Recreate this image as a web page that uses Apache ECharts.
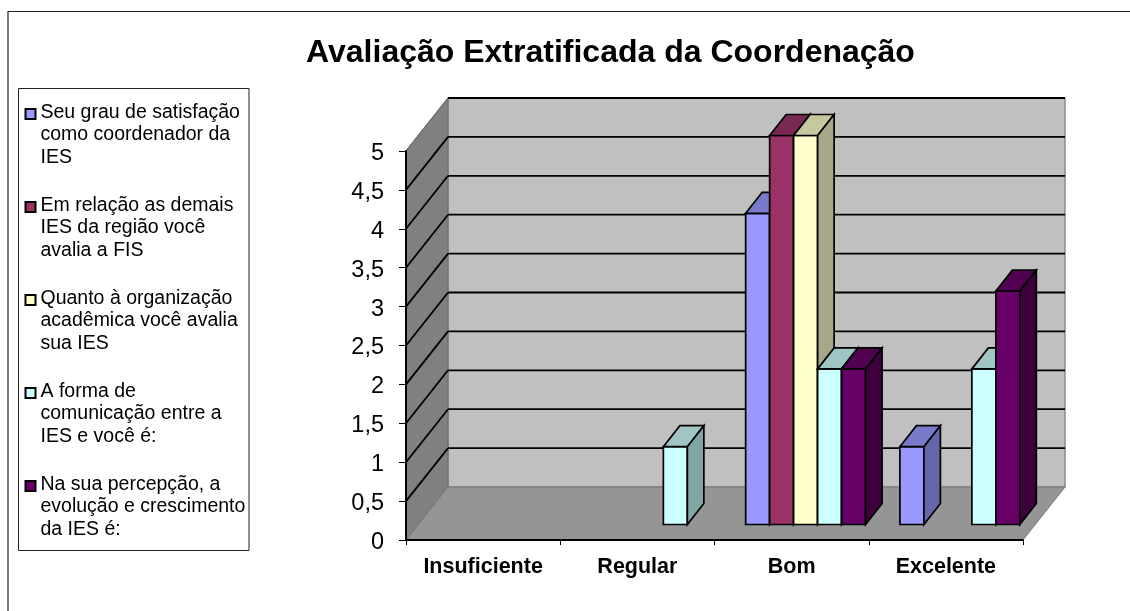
<!DOCTYPE html>
<html><head><meta charset="utf-8">
<style>html,body{margin:0;padding:0;background:#fff}#c{width:1130px;height:611px}</style>
<script src="https://cdn.jsdelivr.net/npm/echarts@6/dist/echarts.min.js"></script>
</head><body><div id="c"></div>
<script>
const chartTitle = 'Avaliação Extratificada da Coordenação';
const categories = ['Insuficiente', 'Regular', 'Bom', 'Excelente'];
const yTicks = [0.5, 1, 1.5, 2, 2.5, 3, 3.5, 4, 4.5, 5];
const seriesNames = [
  'Seu grau de satisfação\ncomo coordenador da\nIES',
  'Em relação as demais\nIES da região você\navalia a FIS',
  'Quanto à organização\nacadêmica você avalia\nsua IES',
  'A forma de\ncomunicação entre a\nIES e você é:',
  'Na sua percepção, a\nevolução e crescimento\nda IES é:'
];
const grauSatisfacao = [null, null, 4, 1];
const demaisIes = [null, null, 5, null];
const organizacao = [null, null, 5, null];
const comunicacao = [null, 1, 2, 2];
const evolucao = [null, null, 2, 3];
const seriesValues = [grauSatisfacao, demaisIes, organizacao, comunicacao, evolucao];
const frontColors = ['#9999ff', '#993366', '#ffffcc', '#ccffff', '#660066'];
const topColors = ['#7a7acc', '#7a2952', '#c8c8a0', '#9fc6c4', '#520052'];
const sideColors = ['#6666aa', '#662244', '#a8a888', '#80a6a4', '#3d003d'];

const WALL_DX = 42, WALL_DY = -53;
const BAR_DX = 16.5, BAR_DY = -21, BASE_LIFT = 15.5, BAR_SHIFT = 14, BAR_FRAC = 0.1555;
const LEGEND_ICON = 'path://M0 8H10V18H0ZM10 0L10 0M10 68L10 68';

function poly(points, fill, stroke, lw) {
  return { type: 'polygon', shape: { points }, style: { fill, stroke: stroke || null, lineWidth: lw || 0 } };
}
function line(points, stroke, lw) {
  return { type: 'polyline', shape: { points }, style: { fill: null, stroke, lineWidth: lw } };
}

function renderFrame(params, api) {
  const cs = params.coordSys;
  const l = cs.x, r = cs.x + cs.width;
  const y0 = api.coord([0, 0])[1], y5 = api.coord([0, 5])[1];
  return { type: 'group', children: [
    poly([[l + WALL_DX, y5 + WALL_DY], [r + WALL_DX, y5 + WALL_DY], [r + WALL_DX, y0 + WALL_DY], [l + WALL_DX, y0 + WALL_DY]], '#c0c0c0', '#8c8c8c', 1.5),
    poly([[l, y5], [l + WALL_DX, y5 + WALL_DY], [l + WALL_DX, y0 + WALL_DY], [l, y0]], '#808080', '#6a6a6a', 1),
    poly([[l, y0], [l + WALL_DX, y0 + WALL_DY], [r + WALL_DX, y0 + WALL_DY], [r, y0]], '#959595', '#777777', 1)
  ]};
}
function renderGrid(params, api) {
  const cs = params.coordSys;
  const l = cs.x, r = cs.x + cs.width;
  const t = api.value(0);
  const y = api.coord([0, t])[1];
  return { type: 'group', children: [
    line([[l, y], [l + WALL_DX, y + WALL_DY]], t === 5 ? '#6a6a6a' : '#000', t === 5 ? 1.2 : 1.8),
    line([[l + WALL_DX, y + WALL_DY], [r + WALL_DX, y + WALL_DY]], '#000', 1.8)
  ]};
}
function makeBarRenderer(idx) {
  return function (params, api) {
    const v = api.value(1);
    if (v == null || isNaN(v)) return;
    const band = api.size([1, 0])[0];
    const w = band * BAR_FRAC;
    const c = api.coord([api.value(0), v]);
    const base = api.coord([api.value(0), 0])[1] - BASE_LIFT;
    const top = c[1] - BASE_LIFT;
    const x0 = c[0] + BAR_SHIFT - w * 2.5 + idx * w;
    const x1 = x0 + w;
    const b = { stroke: '#000', lw: 1.7 };
    return { type: 'group', children: [
      poly([[x0, top], [x1, top], [x1, base], [x0, base]], frontColors[idx], b.stroke, b.lw),
      poly([[x0, top], [x0 + BAR_DX, top + BAR_DY], [x1 + BAR_DX, top + BAR_DY], [x1, top]], topColors[idx], b.stroke, b.lw),
      poly([[x1, top], [x1 + BAR_DX, top + BAR_DY], [x1 + BAR_DX, base + BAR_DY], [x1, base]], sideColors[idx], b.stroke, b.lw)
    ]};
  };
}

const font = '"Liberation Sans", Arial, sans-serif';
const chart = echarts.init(document.getElementById('c'), null, { renderer: 'canvas' });
chart.setOption({
  animation: false,
  backgroundColor: '#fff',
  title: { text: chartTitle, left: 605.5, top: 32, textAlign: 'center',
    textStyle: { fontFamily: font, fontSize: 32, fontWeight: 'bold', color: '#000' } },
  grid: { left: 406, top: 151, width: 617, height: 389 },
  xAxis: { type: 'category', data: categories, z: 5,
    axisLine: { show: true, lineStyle: { color: '#000', width: 2 } },
    axisTick: { show: true, length: 5, alignWithLabel: false, lineStyle: { color: '#000', width: 1 } },
    axisLabel: { interval: 0, margin: 16, fontFamily: font, fontSize: 21.5, fontWeight: 'bold', color: '#000' },
    splitLine: { show: false } },
  yAxis: { type: 'value', min: 0, max: 5, interval: 0.5, z: 5,
    axisLine: { show: true, lineStyle: { color: '#000', width: 2 } },
    axisTick: { show: true, length: 7, lineStyle: { color: '#000', width: 1 } },
    axisLabel: { margin: 22, fontFamily: font, fontSize: 23.5, color: '#000',
      formatter: v => '{a|' + String(v).replace('.', ',') + '}',
      rich: { a: { fontFamily: font, fontSize: 23.5, color: '#000', padding: [5, 0, 0, 0] } } },
    splitLine: { show: false } },
  legend: {
    orient: 'vertical', left: 24.5, top: 100, padding: 0, itemGap: 23, itemWidth: 10, itemHeight: 68,
    selectedMode: false,
    textStyle: { fontFamily: font, fontSize: 19.5, lineHeight: 22.7, color: '#000' },
    data: seriesNames.map((n, i) => ({ name: n, icon: LEGEND_ICON,
      itemStyle: { color: frontColors[i], borderColor: '#000', borderWidth: 2 } }))
  },
  graphic: [
    { type: 'polyline', z: 0, shape: { points: [[8, 611], [8, 11.5], [1130, 11.5]] }, style: { fill: null, stroke: '#222', lineWidth: 1.2 } },
    { type: 'rect', z: 0, shape: { x: 18.5, y: 88.5, width: 230.5, height: 462 }, style: { fill: '#fff', stroke: '#222', lineWidth: 1 } }
  ],
  series: [
    { type: 'custom', name: 'frame', z: 1, silent: true, renderItem: renderFrame, data: [[0]], encode: { x: -1, y: -1 } },
    { type: 'custom', name: 'gridlines', z: 1, silent: true, renderItem: renderGrid, data: yTicks.map(t => [t]), encode: { x: -1, y: -1 } }
  ].concat(seriesNames.map((n, i) => ({
    type: 'custom', name: n, z: 2, silent: true,
    renderItem: makeBarRenderer(i),
    encode: { x: 0, y: 1 },
    data: seriesValues[i].map((v, c) => [c, v])
  })))
});
</script></body></html>
